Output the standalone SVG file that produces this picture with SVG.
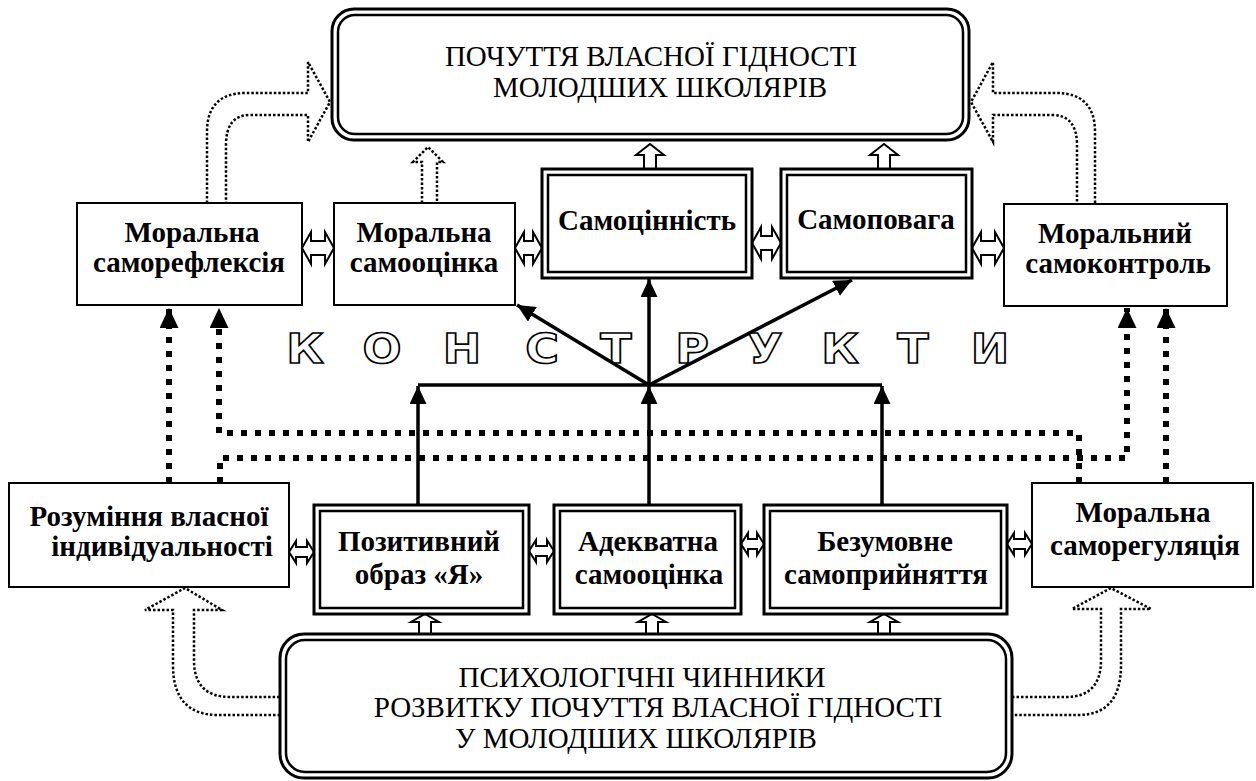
<svg xmlns="http://www.w3.org/2000/svg" width="1256" height="781" viewBox="0 0 1256 781">
<defs>
<style>
.box{fill:#fff;stroke:#000;stroke-width:2}
.dbo{fill:#fff;stroke:#000;stroke-width:3}
.dbi{fill:none;stroke:#000;stroke-width:2.5}
.lbl{font-weight:bold;font-size:29px;text-anchor:middle;fill:#000}
.ttl{font-size:29px;text-anchor:middle;fill:#000}
.kl{font-family:'DejaVu Sans',sans-serif;font-weight:bold;font-size:41px;fill:#fff;stroke:#000;stroke-width:1.6;text-anchor:middle}
.solid{stroke:#000;stroke-width:3.5;fill:none}
.dots{stroke:#000;stroke-width:6;stroke-dasharray:6 8;fill:none}
.fine{stroke:#000;stroke-width:2.5;stroke-dasharray:2.5 2;fill:none}
.hol{fill:#fff;stroke:#000;stroke-width:2;stroke-linejoin:miter}
</style>
<marker id="ah" markerUnits="userSpaceOnUse" markerWidth="18" markerHeight="17" refX="18" refY="8.5" orient="auto">
<path d="M0,0 L18,8.5 L0,17 z" fill="#000"/>
</marker>
<marker id="ah2" markerUnits="userSpaceOnUse" markerWidth="20" markerHeight="19" refX="20" refY="9.5" orient="auto">
<path d="M0,0 L20,9.5 L0,19 z" fill="#000"/>
</marker>
</defs>
<rect width="1256" height="781" fill="#fff"/>

<g id="konstrukty">
<text class="kl" x="305" y="363" transform="translate(305 0) scale(1.12 1) translate(-305 0)">К</text>
<text class="kl" x="382" y="363" transform="translate(382 0) scale(1.12 1) translate(-382 0)">О</text>
<text class="kl" x="462" y="363" transform="translate(462 0) scale(1.12 1) translate(-462 0)">Н</text>
<text class="kl" x="542" y="363" transform="translate(542 0) scale(1.12 1) translate(-542 0)">С</text>
<text class="kl" x="616" y="363" transform="translate(616 0) scale(1.12 1) translate(-616 0)">Т</text>
<text class="kl" x="692" y="363" transform="translate(692 0) scale(1.12 1) translate(-692 0)">Р</text>
<text class="kl" x="765" y="363" transform="translate(765 0) scale(1.12 1) translate(-765 0)">У</text>
<text class="kl" x="840" y="363" transform="translate(840 0) scale(1.12 1) translate(-840 0)">К</text>
<text class="kl" x="913" y="363" transform="translate(913 0) scale(1.12 1) translate(-913 0)">Т</text>
<text class="kl" x="990" y="363" transform="translate(990 0) scale(1.12 1) translate(-990 0)">И</text>
</g>

<g id="connectors">
<path class="solid" d="M418,505 L418,386" marker-end="url(#ah)"/>
<path class="solid" d="M649,507 L649,386" marker-end="url(#ah)"/>
<path class="solid" d="M882,505 L882,386" marker-end="url(#ah)"/>
<path class="solid" d="M418,385 L882,385"/>
<path class="solid" d="M649,385 L649,279" marker-end="url(#ah)"/>
<path class="solid" d="M649,385 L517,305" marker-end="url(#ah)"/>
<path class="solid" d="M649,385 L852,280" marker-end="url(#ah)"/>
<path class="dots" d="M169,483 L169,308" marker-end="url(#ah2)"/>
<path class="dots" d="M1079,483 L1079,433 L219,433 L219,308" marker-end="url(#ah2)"/>
<path class="dots" d="M220,483 L220,458 L1127,458 L1127,308" marker-end="url(#ah2)"/>
<path class="dots" d="M1166,483 L1166,308" marker-end="url(#ah2)"/>
<path class="fine" d="M207,203 L207,132 Q207,93 246,93 L308,93 L308,62 L330,102 L308,142 L308,115 L250,115 Q226,115 226,145 L226,203"/>
<path class="fine" d="M1095,203 L1095,132 Q1095,93 1056,93 L993,93 L993,62 L971,102 L993,142 L993,115 L1052,115 Q1077,115 1077,145 L1077,203"/>
<path class="fine" d="M422,203 L422,162 L413,162 L428,147 L443,162 L437,162 L437,203"/>
<path class="fine" d="M280,715 L218,715 Q173,715 173,665 L173,610 L145,610 L185,588 L222,610 L194,610 L194,660 Q194,697 230,697 L280,697"/>
<path class="fine" d="M1012,697 L1066,697 Q1101,697 1101,660 L1101,609 L1072,609 L1111,588 L1151,609 L1121,609 L1121,665 Q1121,715 1078,715 L1012,715"/>
<path class="hol" d="M650,144 L664,155 L656,155 L656,169 L644,169 L644,155 L636,155 Z"/>
<path class="hol" d="M884,144 L898,155 L890,155 L890,169 L878,169 L878,155 L870,155 Z"/>
<path class="hol" d="M425,614 L439,622 L431,622 L431,634 L419,634 L419,622 L411,622 Z"/>
<path class="hol" d="M652,614 L666,622 L658,622 L658,634 L646,634 L646,622 L638,622 Z"/>
<path class="hol" d="M884,614 L898,622 L890,622 L890,634 L878,634 L878,622 L870,622 Z"/>
<path class="hol" d="M302,248 L311,232 L311,241 L325,241 L325,232 L334,248 L325,264 L325,255 L311,255 L311,264 Z"/>
<path class="hol" d="M515,248 L524,232 L524,241 L533,241 L533,232 L542,248 L533,264 L533,255 L524,255 L524,264 Z"/>
<path class="hol" d="M752,243 L761,227 L761,236 L772,236 L772,227 L781,243 L772,259 L772,250 L761,250 L761,259 Z"/>
<path class="hol" d="M972,248 L981,232 L981,241 L995,241 L995,232 L1004,248 L995,264 L995,255 L981,255 L981,264 Z"/>
<path class="hol" d="M289,552 L296,541 L296,547 L307,547 L307,541 L314,552 L307,563 L307,557 L296,557 L296,563 Z"/>
<path class="hol" d="M529,551 L536,540 L536,546 L547,546 L547,540 L554,551 L547,562 L547,556 L536,556 L536,562 Z"/>
<path class="hol" d="M741,544 L748,533 L748,539 L757,539 L757,533 L764,544 L757,555 L757,549 L748,549 L748,555 Z"/>
<path class="hol" d="M1007,544 L1014,533 L1014,539 L1025,539 L1025,533 L1032,544 L1025,555 L1025,549 L1014,549 L1014,555 Z"/>
</g>

<g font-family="Liberation Serif, Times New Roman, serif">
<g id="top">
<rect class="dbo" x="332" y="9" width="637" height="131" rx="22"/>
<rect class="dbi" x="338" y="15" width="625" height="119" rx="17"/>
<text class="ttl" x="651" y="66">ПОЧУТТЯ ВЛАСНОЇ ГІДНОСТІ</text>
<text class="ttl" x="660" y="97">МОЛОДШИХ ШКОЛЯРІВ</text>
</g>

<g id="samorefleksiya">
<rect class="box" x="77" y="203" width="225" height="102"/>
<text class="lbl" x="192" y="242">Моральна</text>
<text class="lbl" x="189" y="272">саморефлексія</text>
</g>
<g id="samoocinka-m">
<rect class="box" x="334" y="203" width="181" height="102"/>
<text class="lbl" x="424" y="242">Моральна</text>
<text class="lbl" x="424" y="272">самооцінка</text>
</g>
<g id="samocinnist">
<rect class="dbo" x="542" y="169" width="210" height="109"/>
<rect class="dbi" x="548" y="175" width="198" height="97"/>
<text class="lbl" x="647" y="230">Самоцінність</text>
</g>
<g id="samopovaga">
<rect class="dbo" x="781" y="169" width="191" height="109"/>
<rect class="dbi" x="787" y="175" width="179" height="97"/>
<text class="lbl" x="876" y="229">Самоповага</text>
</g>
<g id="samokontrol">
<rect class="box" x="1004" y="204" width="223" height="102"/>
<text class="lbl" x="1115" y="243">Моральний</text>
<text class="lbl" x="1118" y="273">самоконтроль</text>
</g>

<g id="rozuminnya">
<rect class="box" x="9" y="483" width="280" height="104"/>
<text class="lbl" x="149" y="526">Розуміння власної</text>
<text class="lbl" x="162" y="556">індивідуальності</text>
</g>
<g id="obraz">
<rect class="dbo" x="314" y="505" width="215" height="109"/>
<rect class="dbi" x="320" y="511" width="203" height="97"/>
<text class="lbl" x="419" y="551">Позитивний</text>
<text class="lbl" x="419" y="584">образ «Я»</text>
</g>
<g id="adekvatna">
<rect class="dbo" x="554" y="505" width="187" height="109"/>
<rect class="dbi" x="560" y="511" width="175" height="97"/>
<text class="lbl" x="648" y="551">Адекватна</text>
<text class="lbl" x="649" y="584">самооцінка</text>
</g>
<g id="bezumovne">
<rect class="dbo" x="764" y="505" width="243" height="109"/>
<rect class="dbi" x="770" y="511" width="231" height="97"/>
<text class="lbl" x="885" y="551">Безумовне</text>
<text class="lbl" x="886" y="584">самоприйняття</text>
</g>
<g id="samoregulyaciya">
<rect class="box" x="1032" y="483" width="221" height="104"/>
<text class="lbl" x="1143" y="522">Моральна</text>
<text class="lbl" x="1145" y="555">саморегуляція</text>
</g>

<g id="bottom">
<rect class="dbo" x="280" y="634" width="732" height="144" rx="24"/>
<rect class="dbi" x="286" y="640" width="720" height="132" rx="19"/>
<text class="ttl" x="642" y="687">ПСИХОЛОГІЧНІ ЧИННИКИ</text>
<text class="ttl" x="658" y="717">РОЗВИТКУ ПОЧУТТЯ ВЛАСНОЇ ГІДНОСТІ</text>
<text class="ttl" x="636" y="748">У МОЛОДШИХ ШКОЛЯРІВ</text>
</g>
</g>
</svg>
